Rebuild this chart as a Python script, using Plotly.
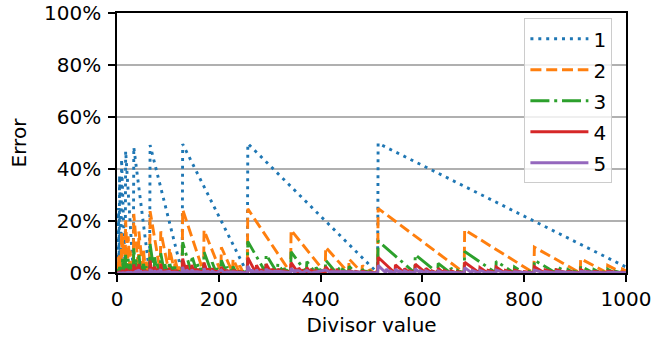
import plotly.graph_objects as go

# Vertex lists (divisor value, error in %)
x1 = [1, 2, 3, 4, 5, 8, 9, 16, 17, 32, 33, 64, 65, 128, 129, 256, 257, 512, 513, 1000]
y1 = [0, 0, 25, 0, 37.5, 0, 43.8, 0, 46.9, 0, 48.4, 0, 49.2, 0, 49.6, 0, 49.8, 0, 49.9, 2.3]

x2 = [1, 2, 3, 4, 5, 6, 7, 8, 9, 10, 11, 12, 13, 14, 15, 16,
      17, 21, 22, 25, 26, 28, 29, 30, 31, 32,
      33, 42, 43, 51, 52, 56, 57, 60, 61, 62, 63, 64,
      65, 85, 86, 102, 103, 113, 114, 120, 121, 124, 125, 126, 128,
      129, 170, 171, 204, 205, 227, 228, 240, 241, 248, 249, 252, 253, 254, 256,
      257, 341, 342, 409, 410, 455, 456, 481, 482, 496, 497, 504, 505, 508, 509, 512,
      513, 682, 683, 819, 820, 910, 911, 963, 964, 992, 993, 1000]
y2 = [0, 0, 6.25, 0, 6.25, 6.25, 1.56, 0, 15.6, 6.25, 14.1, 6.25, 8.59, 1.56, 0.39, 0,
      20.3, 1.56, 14.1, 2.34, 8.59, 1.56, 3.71, 0.39, 0.1, 0,
      22.7, 1.56, 16.0, 0.39, 8.59, 1.56, 5.37, 0.39, 1.71, 0.1, 0.02, 0,
      23.8, 0.39, 16.0, 0.39, 9.47, 0.68, 5.37, 0.39, 2.51, 0.1, 0.8, 0, 0,
      24.4, 0.39, 16.5, 0.39, 9.91, 0.24, 5.37, 0.39, 2.92, 0.1, 1.21, 0.02, 0.4, 0, 0,
      24.7, 0.1, 16.5, 0.15, 9.91, 0.02, 5.37, 0.18, 2.92, 0.1, 1.41, 0.02, 0.6, 0, 0.3, 0,
      24.85, 0.1, 16.6, 0.02, 9.91, 0.02, 5.47, 0.08, 2.92, 0.1, 1.51, 0.82]

x3 = [1, 2, 3, 4, 5, 6, 7, 8, 9, 10, 11, 12, 13, 14, 15, 16,
      17, 18, 19, 20, 21, 22, 23, 24, 25, 26, 27, 28, 29, 30, 32,
      33, 36, 37, 39, 40, 41, 42, 43, 46, 47, 48, 49, 50, 51, 52, 53, 54, 55, 56, 57, 58, 59, 60, 61, 62, 64,
      65, 73, 74, 78, 79, 81, 82, 83, 84, 85, 86, 93, 94, 97, 98, 99, 100, 101, 102,
      103, 107, 108, 110, 111, 112, 113, 114, 117, 118, 119, 120, 121, 122, 123, 124, 128,
      129, 146, 147, 157, 158, 163, 164, 167, 168, 170, 171, 186, 187, 195, 196, 199, 200, 204,
      205, 215, 216, 221, 222, 227, 228, 234, 235, 240, 241, 248, 249, 256,
      257, 292, 293, 315, 316, 327, 328, 334, 335, 341, 342, 372, 373, 390, 391, 399, 400, 409,
      410, 431, 432, 442, 443, 455, 456, 468, 469, 481, 482, 489, 490, 496, 497, 512,
      513, 585, 586, 630, 631, 655, 656, 668, 669, 675, 676, 682, 683, 744, 745, 780, 781, 799,
      800, 809, 810, 819, 820, 862, 863, 885, 886, 897, 898, 910, 911, 936, 937, 949, 950, 963,
      964, 978, 979, 992, 993, 1000]
y3 = [0, 0, 1.56, 0, 2.34, 1.56, 0.2, 0, 1.56, 2.34, 5.47, 1.56, 3.52, 0.2, 0.02, 0,
      7.03, 1.56, 3.52, 2.34, 0.54, 5.47, 1.17, 1.56, 1.12, 3.52, 2.44, 0.2, 0.88, 0.02, 0,
      9.77, 1.56, 6.05, 0.98, 2.34, 1.9, 0.54, 7.62, 1.17, 3.61, 1.56, 1.9, 1.12, 0.08, 3.52, 1.66, 2.44, 0.63, 0.2, 2.59, 0.88, 0.61, 0.02, 0.22, 0, 0,
      11.13, 0.2, 6.05, 0.98, 3.56, 1.1, 1.9, 0.71, 0.54, 0.13, 7.62, 0.1, 3.61, 0.54, 1.9, 0.9, 1.12, 0.13, 0.08,
      4.44, 0.73, 2.44, 0.63, 1.09, 0.2, 0.34, 2.59, 0.02, 0.61, 0.49, 0.02, 1.04, 0.22, 0.15, 0, 0,
      11.82, 0.2, 6.69, 0.34, 3.56, 0.51, 1.9, 0.11, 0.54, 0.4, 8.15, 0.1, 4.13, 0.02, 1.9, 0.4, 1.12, 0.4,
      4.91, 0.27, 2.44, 0.18, 1.09, 0.2, 2.59, 0.02, 1.03, 0.4, 1.45, 0.1, 0.45, 0,
      12.16, 0.2, 7.01, 0.02, 3.56, 0.21, 1.9, 0.11, 0.83, 0.1, 8.15, 0.1, 4.38, 0.02, 2.15, 0.16, 1.12, 0.15,
      4.91, 0.04, 2.44, 0.18, 1.31, 0, 2.59, 0.02, 1.24, 0.2, 1.45, 0.02, 0.56, 0.05, 0.65, 0,
      12.33, 0.02, 7.01, 0.02, 3.72, 0.05, 1.9, 0.11, 0.98, 0.1, 0.5, 0.1, 8.29, 0.1, 4.51, 0.02, 2.28, 0.03,
      1.12, 0.03, 0.6, 0, 4.91, 0.04, 2.55, 0.07, 1.31, 0.08, 0.7, 0, 2.7, 0.02, 1.35, 0.08, 0.7, 0,
      1.45, 0.02, 0.7, 0, 0.75, 0.05]

x4 = [1, 2, 3, 4, 5, 6, 7, 8, 9, 10, 11, 12, 13, 14, 16,
      17, 18, 19, 20, 21, 22, 23, 24, 25, 26, 27, 28, 29, 30, 32,
      33, 34, 35, 36, 37, 38, 39, 40, 41, 42, 43, 44, 45, 46, 47, 48, 49, 50, 51, 52, 53, 54, 55, 56,
      57, 58, 59, 60, 61, 64,
      65, 68, 69, 70, 71, 72, 73, 74, 75, 76, 77, 78, 79, 80, 81, 82, 83, 84, 85,
      86, 87, 88, 89, 90, 91, 92, 93, 94, 95, 96, 97, 98, 99, 100, 101, 102,
      103, 104, 105, 106, 107, 108, 109, 110, 111, 112, 113, 114, 115, 116, 117, 118, 119, 120, 121, 124, 128,
      129, 136, 137, 141, 142, 146, 147, 151, 152, 157, 158, 160, 161, 163, 164, 167, 168, 170,
      171, 178, 179, 186, 187, 190, 191, 195, 196, 199, 200, 204, 205, 210, 211, 215, 216, 221,
      222, 227, 228, 234, 235, 240, 241, 256,
      257, 273, 274, 282, 283, 287, 288, 292, 293, 303, 304, 309, 310, 315, 316, 321, 322, 327,
      328, 334, 335, 341, 342, 356, 357, 364, 365, 372, 373, 381, 382, 390, 391, 399, 400, 409,
      410, 420, 421, 431, 432, 442, 443, 455, 456, 461, 462, 468, 469, 481, 482, 496, 497, 512,
      513, 546, 547, 564, 565, 574, 575, 585, 586, 606, 607, 618, 619, 630, 631, 642, 643, 655,
      656, 668, 669, 682, 683, 712, 713, 728, 729, 744, 745, 762, 763, 780, 781, 799, 800, 819,
      820, 840, 841, 862, 863, 885, 886, 910, 911, 923, 924, 936, 937, 963, 964, 992, 993, 1000]
y4 = [0, 0, 0.39, 0, 0.39, 0.39, 0.02, 0, 0.68, 0.39, 1.17, 0.39, 0.98, 0.02, 0,
      0.39, 0.68, 1.66, 0.39, 0.02, 1.17, 0.05, 0.39, 0.51, 0.98, 1.12, 0.02, 0.17, 0.02, 0,
      3.32, 0.39, 0.88, 0.68, 2.44, 1.66, 0.02, 0.39, 0.9, 0.02, 3.42, 1.17, 1.12, 0.05, 1.32, 0.39, 0.71, 0.51, 0.08, 0.98, 0.37, 1.12, 0.3, 0.02,
      1.2, 0.17, 0.25, 0.02, 0.03, 0,
      4.79, 0.39, 2.29, 0.88, 1.2, 0.68, 0.08, 2.44, 1.12, 1.66, 0.37, 0.02, 1.64, 0.39, 0.13, 0.9, 0.2, 0.02, 0,
      3.42, 2.29, 1.17, 0.05, 1.12, 0.02, 0.05, 0.02, 1.32, 0.27, 0.39, 0.24, 0.71, 0.3, 0.51, 0.13, 0.08,
      1.93, 0.98, 0.02, 0.37, 0.08, 1.12, 0.21, 0.3, 0.41, 0.02, 0.34, 1.2, 0.33, 0.17, 0.02, 0.25, 0.49, 0.02, 0.3, 0.1, 0,
      5.52, 0.39, 3.0, 0.17, 1.2, 0.08, 3.1, 0.46, 1.66, 0.1, 1.64, 0.4, 0.8, 0.3, 0.9, 0.1, 0.5, 0.2,
      3.98, 0.05, 1.67, 0.1, 1.84, 0.3, 1.0, 0, 0.9, 0.2, 0.5, 0.2, 2.4, 0.02, 0.9, 0.2, 1.12, 0.2,
      0.5, 0.1, 1.2, 0, 0.6, 0.1, 0.5, 0,
      5.88, 0.02, 3.0, 0.17, 1.54, 0.15, 0.7, 0.2, 3.43, 0.13, 1.66, 0.04, 0.8, 0, 1.64, 0.08, 0.8, 0.2,
      0.9, 0.1, 0.5, 0.1, 3.98, 0.05, 1.95, 0.02, 0.9, 0.1, 2.11, 0, 1.0, 0, 0.96, 0.1, 0.5, 0.1,
      2.4, 0.02, 1.1, 0, 1.12, 0.1, 0.6, 0, 1.2, 0.1, 0.6, 0.02, 0.6, 0.1, 0.7, 0, 0.4, 0,
      6.07, 0.02, 3.18, 0.17, 1.72, 0.15, 0.89, 0, 3.43, 0.13, 1.82, 0.04, 0.83, 0, 1.79, 0.08, 0.9, 0,
      0.9, 0, 0.5, 0, 4.12, 0.05, 2.08, 0.02, 1.0, 0.1, 2.24, 0, 1.04, 0, 1.09, 0, 0.51, 0,
      2.4, 0.02, 1.19, 0, 1.24, 0, 0.63, 0, 1.3, 0, 0.6, 0, 0.63, 0, 0.71, 0, 0.37, 0.1]

x5 = [1, 3, 4, 8, 11, 12, 16, 19, 22, 24, 27, 32,
      33, 37, 38, 43, 44, 45, 47, 48, 52, 54, 57, 64,
      65, 66, 69, 70, 74, 75, 79, 80, 86, 87, 90, 94, 98, 103, 104, 108, 114, 128,
      129, 132, 133, 136, 137, 141, 142, 146, 147, 151, 152, 158, 164, 170, 171, 174, 175, 179,
      186, 187, 195, 205, 210, 216, 228, 256,
      257, 264, 265, 268, 269, 273, 274, 278, 283, 292, 293, 298, 299, 304, 316, 341, 342, 349,
      350, 357, 364, 373, 381, 391, 410, 420, 421, 432, 456, 512,
      513, 528, 529, 537, 538, 546, 547, 555, 556, 564, 565, 574, 575, 585, 586, 595, 596, 606,
      607, 618, 619, 630, 631, 642, 643, 682, 683, 697, 698, 712, 713, 728, 729, 744, 745, 762,
      763, 780, 781, 819, 820, 840, 841, 862, 863, 910, 911, 963, 964, 1000]
y5 = [0, 0.1, 0, 0, 0.2, 0.1, 0, 0.2, 0.3, 0.1, 0.3, 0,
      0.1, 0.63, 0.1, 1.32, 0.4, 0.3, 0.5, 0.1, 0.3, 0.4, 0.4, 0,
      1.61, 0.2, 0.61, 0.2, 0.63, 0.3, 0.5, 0.1, 1.32, 0.2, 0.3, 0.4, 0.3, 0.67, 0.2, 0.3, 0.3, 0,
      2.37, 0.1, 0.6, 0.1, 1.33, 0.1, 0.5, 0.1, 1.31, 0.1, 0.5, 0.5, 0.3, 0.1, 1.89, 0.1, 0.5, 0.58,
      0.1, 0.7, 0, 1.15, 0.1, 0.4, 0.4, 0,
      2.75, 0.1, 1.34, 0.2, 0.5, 0, 1.33, 0.1, 0.6, 0.1, 1.64, 0.1, 0.8, 0.5, 0.67, 0.1, 1.89, 0.05,
      0.9, 0.85, 0.1, 0.97, 0, 0.4, 1.15, 0.1, 0.5, 0.46, 0.5, 0,
      2.94, 0.1, 1.52, 0.03, 0.67, 0, 1.51, 0.07, 0.74, 0.1, 0.86, 0.1, 0.42, 0, 1.64, 0.13, 0.87, 0.1,
      0.9, 0, 0.35, 0, 0.83, 0.05, 0.4, 0, 2.04, 0.03, 0.95, 0, 0.99, 0, 0.44, 0, 1.1, 0,
      0.46, 0, 0.49, 0, 1.15, 0, 0.55, 0, 0.58, 0, 0.6, 0, 0.3, 0.1]

names = ["1", "2", "3", "4", "5"]
x_ticks = [0, 200, 400, 600, 800, 1000]
y_ticks = [0, 20, 40, 60, 80, 100]
y_ticktext = ["0%", "20%", "40%", "60%", "80%", "100%"]

colors = ["#1f77b4", "#ff7f0e", "#2ca02c", "#d62728", "#9467bd"]
dashes = ["3px,4.9px", "11px,4.8px", "19px,4.8px,3px,4.8px", "solid", "solid"]
xs = [x1, x2, x3, x4, x5]
ys = [y1, y2, y3, y4, y5]

FONT = "DejaVu Sans"
fig = go.Figure()
for name, c, d, x, y in zip(names, colors, dashes, xs, ys):
    fig.add_trace(go.Scatter(x=x, y=y, mode="lines", name=name, legendgroup=name,
                             line=dict(color=c, width=2.9, dash=d)))

fig.update_layout(
    width=668, height=337,
    margin=dict(l=116.5, r=42, t=13, b=64, autoexpand=False),
    plot_bgcolor="white", paper_bgcolor="white",
    font=dict(family=FONT, size=20, color="black"),
    showlegend=True,
    legend=dict(x=0.8004, y=0.9796, xanchor="left", yanchor="top",
                bgcolor="rgba(255,255,255,0.8)", bordercolor="#cccccc", borderwidth=1,
                font=dict(size=20), tracegroupgap=2, itemwidth=58),
)
fig.update_xaxes(range=[0, 1000], tickmode="array", tickvals=x_ticks, automargin=False,
                 ticks="outside", ticklen=7, tickwidth=1.6, tickcolor="black",
                 tickfont=dict(size=20), ticklabeloverflow="allow",
                 showline=True, mirror=True, linecolor="black", linewidth=1.6,
                 showgrid=False, zeroline=False,
                 title=dict(text="Divisor value", standoff=8, font=dict(size=20)))
fig.update_yaxes(range=[0, 100], tickmode="array", tickvals=y_ticks, ticktext=y_ticktext,
                 automargin=False, ticklabelstandoff=3, ticklabeloverflow="allow",
                 ticks="outside", ticklen=7, tickwidth=1.6, tickcolor="black",
                 tickfont=dict(size=20),
                 showline=True, mirror=True, linecolor="black", linewidth=1.6,
                 showgrid=True, gridcolor="#b0b0b0", gridwidth=1.6, zeroline=False,
                 title=dict(text="Error", standoff=12, font=dict(size=20)))
# remove the default page margin so the 668x337 figure fills the window exactly
fig.write_html("out.html", config={"displayModeBar": False},
               post_script="document.body.style.margin='0';")
